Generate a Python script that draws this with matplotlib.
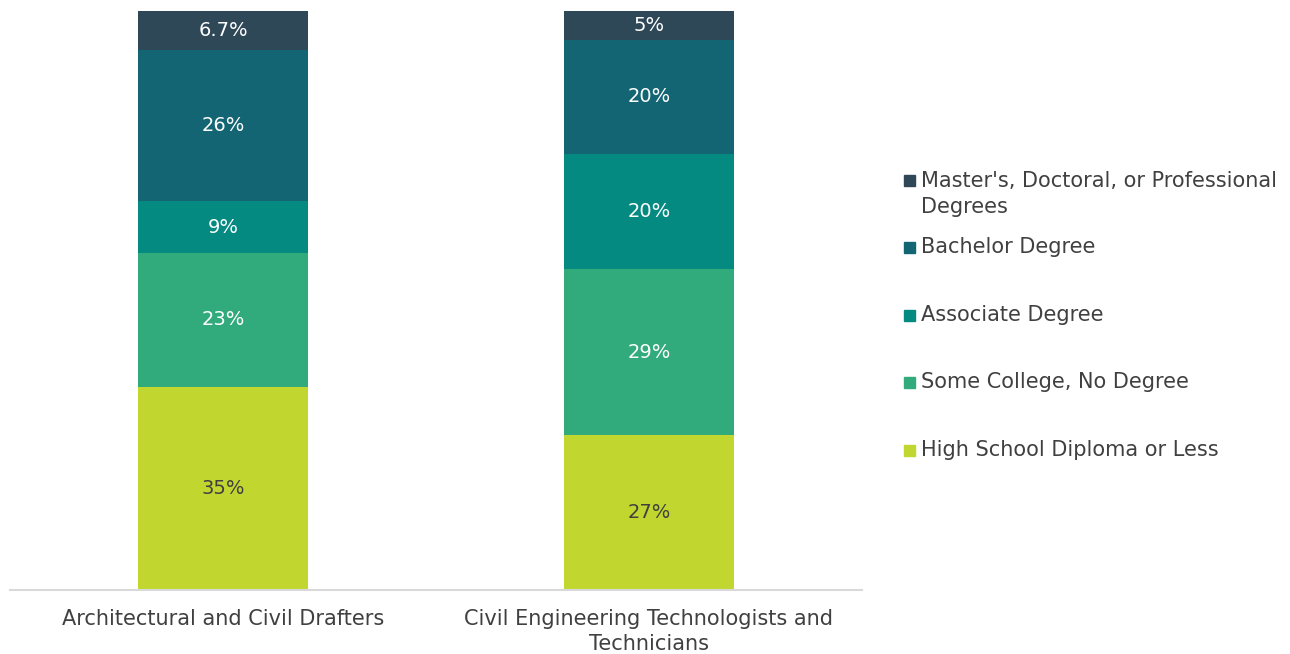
import numpy as np
import matplotlib.pyplot as plt
from matplotlib.patches import Rectangle

# categories and raw shares (as printed on the chart)
occupations = ['Architectural and Civil Drafters',
               'Civil Engineering Technologists and\nTechnicians']
levels = ['High School Diploma or Less', 'Some College, No Degree',
          'Associate Degree', 'Bachelor Degree',
          "Master's, Doctoral, or Professional\nDegrees"]
drafters = [35, 23, 9, 26, 6.7]
technicians = [27, 29, 20, 20, 5]
value_labels = [['35%', '23%', '9%', '26%', '6.7%'],
                ['27%', '29%', '20%', '20%', '5%']]

colors = ['#C1D72F', '#31AA7C', '#048A81', '#136574', '#2F4858']
text_colors = ['#404040', 'white', 'white', 'white', 'white']

plt.rcParams['font.family'] = ['DejaVu Sans']

data = np.array([drafters, technicians], dtype=float)
shares = data / data.sum(axis=1, keepdims=True)

fig = plt.figure(figsize=(12.9, 6.54), dpi=100)
ax = fig.add_axes([10 / 1290, 64 / 654, 852 / 1290, 579 / 654])

x = np.arange(len(occupations))
bottom = np.zeros(len(occupations))
for i, lvl in enumerate(levels):
    ax.bar(x, shares[:, i], width=0.4, bottom=bottom, color=colors[i],
           edgecolor='none')
    for j in range(len(occupations)):
        ax.text(x[j], bottom[j] + shares[j, i] / 2, value_labels[j][i],
                ha='center', va='center', fontsize=14, color=text_colors[i])
    bottom += shares[:, i]

ax.set_xlim(-0.5, 1.5)
ax.set_ylim(0, 1)
ax.set_yticks([])
ax.set_xticks(x)
ax.set_xticklabels(occupations, fontsize=15, color='#404040', linespacing=1.3)
ax.tick_params(axis='x', length=0, pad=14)
for side in ['left', 'right', 'top']:
    ax.spines[side].set_visible(False)
ax.spines['bottom'].set_color('#D9D9D9')
ax.spines['bottom'].set_linewidth(1.5)

# legend, top entry first
legend_y = [180, 247, 315, 382, 450]
for i, lvl in zip(range(len(levels) - 1, -1, -1), legend_y):
    fig.patches.append(Rectangle((904 / 1290, 1 - (lvl + 6) / 654), 11 / 1290, 11 / 654,
                                 transform=fig.transFigure, color=colors[i]))
    if '\n' in levels[i]:
        fig.text(921 / 1290, 1 - (lvl - 9) / 654, levels[i], fontsize=15,
                 color='#404040', va='top', ha='left', linespacing=1.35)
    else:
        fig.text(921 / 1290, 1 - lvl / 654, levels[i], fontsize=15,
                 color='#404040', va='center', ha='left')

fig.savefig('out.png', dpi=100)
